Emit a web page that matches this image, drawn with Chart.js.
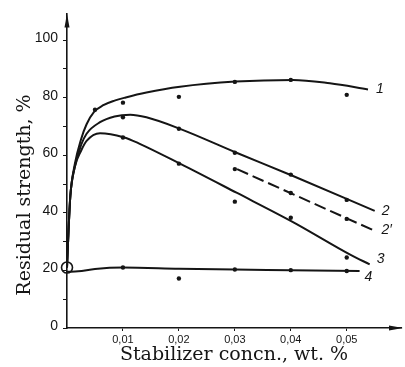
<!DOCTYPE html>
<html><head><meta charset="utf-8">
<script src="https://cdn.jsdelivr.net/npm/chart.js@4.4.1/dist/chart.umd.min.js"></script>
<style>html,body{margin:0;padding:0;background:#fff}</style>
</head><body>
<canvas id="c" width="405" height="367"></canvas>
<script>
// ---- data ----
const xTickLabels = {0.01: '0,01', 0.02: '0,02', 0.03: '0,03', 0.04: '0,04', 0.05: '0,05'};
const yTickLabels = {0: '0', 20: '20', 40: '40', 60: '60', 80: '80', 100: '100'};
const xTitle = 'Stabilizer concn., wt. %';
const yTitle = 'Residual strength, %';

// fitted curves (as drawn)
const curve1X = [0, 0.0003, 0.0006, 0.0014, 0.0025, 0.0035, 0.0048, 0.0065, 0.0085, 0.0105, 0.0142, 0.0202, 0.0301, 0.0404, 0.047, 0.0538];
const curve1Y = [21, 35, 46, 57, 65.5, 70.8, 75.0, 77.4, 79.0, 80.1, 81.8, 83.8, 85.6, 86.2, 85.0, 82.9];
const curve2X = [0, 0.0003, 0.0006, 0.0014, 0.0025, 0.0035, 0.0059, 0.0085, 0.0113, 0.0142, 0.0202, 0.0303, 0.0403, 0.055];
const curve2Y = [21, 35, 46, 56, 63.5, 67.5, 71.5, 73.5, 74.1, 73.2, 69.2, 60.9, 52.9, 40.7];
const curve2pX = [0.0304, 0.0546];
const curve2pY = [55.2, 34.1];
const curve3X = [0, 0.0003, 0.0006, 0.0014, 0.0025, 0.0035, 0.0059, 0.0101, 0.013, 0.0202, 0.0303, 0.0404, 0.0507, 0.0541];
const curve3Y = [21, 35, 46, 56, 61.5, 65, 67.7, 66.3, 64, 57.1, 47, 36.8, 25.4, 22.1];
const curve4X = [0, 0.002, 0.005, 0.01, 0.02, 0.03, 0.04, 0.0523];
const curve4Y = [19.5, 19.7, 20.5, 21.0, 20.6, 20.3, 20.1, 19.8];

// measured points
const mark1X = [0.005, 0.01, 0.02, 0.03, 0.04, 0.05];
const mark1Y = [75.8, 78.3, 80.3, 85.5, 86.2, 81.0];
const markX = [0.01, 0.02, 0.03, 0.04, 0.05];
const mark2Y = [73.2, 69.2, 60.9, 53.3, 44.5];
const mark2pX = [0.03, 0.04, 0.05];
const mark2pY = [55.2, 46.9, 37.9];
const mark3Y = [66.2, 57.1, 43.9, 38.3, 24.5];
const mark4Y = [21.0, 17.2, 20.3, 20.1, 19.8];
const startX = [0];
const startY = [21];

const curveNames = ['1', '2', '2\u2032', '3', '4'];

// ---- chart ----
const INK = '#151515';
const pts = (xs, ys) => xs.map((x, i) => ({x, y: ys[i]}));
const lineDs = (xs, ys, dash) => ({
  type: 'line', data: pts(xs, ys), borderColor: INK, borderWidth: 2,
  borderDash: dash || [], pointRadius: 0, cubicInterpolationMode: 'monotone', fill: false
});
const markDs = (xs, ys) => ({
  type: 'scatter', data: pts(xs, ys), pointRadius: 2.2, pointBackgroundColor: INK,
  pointBorderWidth: 0, showLine: false
});

const datasets = [
  lineDs(curve1X, curve1Y),
  lineDs(curve2X, curve2Y),
  lineDs(curve2pX, curve2pY, [12, 5]),
  lineDs(curve3X, curve3Y),
  lineDs(curve4X, curve4Y),
  markDs(mark1X, mark1Y),
  markDs(markX, mark2Y),
  markDs(mark2pX, mark2pY),
  markDs(markX, mark3Y),
  markDs(markX, mark4Y),
  {type: 'scatter', data: pts(startX, startY), pointRadius: 5.5, pointBackgroundColor: 'rgba(0,0,0,0)',
   pointBorderColor: INK, pointBorderWidth: 1.6, clip: false}
];

const labelOffsets = [[8, 0], [7, 0], [9, 0], [7, -5], [5, 6]];

const decor = {
  id: 'decor',
  afterDraw(chart) {
    const {ctx, chartArea: a, scales: {x, y}} = chart;
    ctx.save();
    ctx.fillStyle = INK;
    // arrow heads
    ctx.beginPath();
    ctx.moveTo(a.left, a.top); ctx.lineTo(a.left - 2.5, a.top + 14); ctx.lineTo(a.left + 2.5, a.top + 14);
    ctx.closePath(); ctx.fill();
    ctx.beginPath();
    ctx.moveTo(a.right + 2, a.bottom); ctx.lineTo(a.right - 12, a.bottom - 2.5); ctx.lineTo(a.right - 12, a.bottom + 2.5);
    ctx.closePath(); ctx.fill();
    // y title
    ctx.save();
    ctx.translate(25, 195);
    ctx.rotate(-Math.PI / 2);
    ctx.font = '19px "DejaVu Serif"';
    ctx.textAlign = 'center'; ctx.textBaseline = 'middle';
    ctx.fillText(yTitle, 0, 0);
    ctx.restore();
    // curve numbers
    ctx.font = 'italic 14px "Liberation Sans"';
    ctx.textAlign = 'left'; ctx.textBaseline = 'middle';
    curveNames.forEach((name, i) => {
      const d = chart.data.datasets[i].data;
      const p = d[d.length - 1];
      ctx.fillText(name, x.getPixelForValue(p.x) + labelOffsets[i][0], y.getPixelForValue(p.y) + labelOffsets[i][1]);
    });
    ctx.restore();
  }
};

new Chart(document.getElementById('c'), {
  data: {datasets},
  options: {
    responsive: false, animation: false,
    layout: {padding: {top: 12, right: 4, left: 0, bottom: 0}, autoPadding: false},
    plugins: {legend: {display: false}, tooltip: {enabled: false}},
    scales: {
      x: {
        type: 'linear', min: 0, max: 0.0597,
        afterBuildTicks: s => { s.ticks = Object.keys(xTickLabels).map(v => ({value: +v})); },
        afterFit: s => { s.height = 39; },
        ticks: {callback: v => xTickLabels[v] || '', color: INK, font: {family: 'Liberation Sans', size: 11}, padding: 2, maxRotation: 0, autoSkip: false},
        grid: {drawOnChartArea: false, drawTicks: true, tickLength: 3, color: INK},
        border: {display: true, color: INK, width: 1.6},
        title: {display: true, text: xTitle, color: INK, font: {family: 'DejaVu Serif', size: 19, lineHeight: 1}, padding: {top: 0, bottom: 2}}
      },
      y: {
        type: 'linear', min: 0, max: 109.3,
        afterBuildTicks: s => { const t = []; for (let v = 0; v <= 100; v += 10) t.push({value: v}); s.ticks = t; },
        afterFit: s => { s.width = 67; },
        ticks: {callback: v => yTickLabels[v] || '', color: INK, font: {family: 'Liberation Sans', size: 14}, padding: 5, labelOffset: -2, autoSkip: false},
        grid: {drawOnChartArea: false, drawTicks: true, tickLength: 4, color: INK},
        border: {display: true, color: INK, width: 1.6},
        title: {display: false}
      }
    }
  },
  plugins: [decor]
});
</script>
</body></html>
